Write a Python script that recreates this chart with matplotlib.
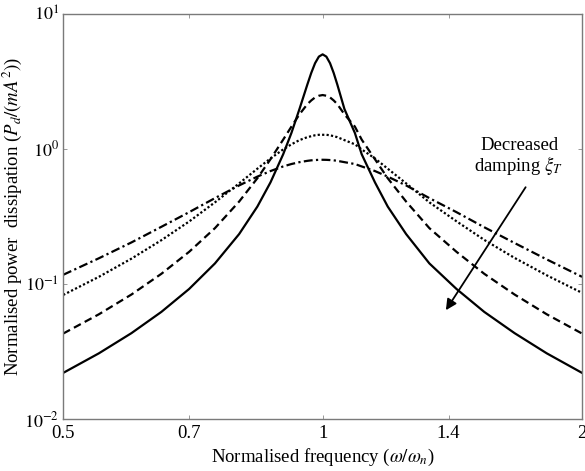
import matplotlib
matplotlib.use("Agg")
import matplotlib.pyplot as plt
from matplotlib.ticker import FixedLocator, FixedFormatter, NullLocator

plt.rcParams["font.family"] = ["Liberation Serif", "DejaVu Serif"]
plt.rcParams["mathtext.fontset"] = "stix"

#frecuencia normalizada (w/wn)
freq = [0.5, 0.55, 0.6, 0.65, 0.7, 0.75, 0.8, 0.84, 0.87, 0.9, 0.92, 0.94, 0.96, 0.97, 0.98, 0.99,
        1.0,
        1.01, 1.02, 1.03, 1.04, 1.06, 1.09, 1.11, 1.15, 1.19, 1.25, 1.33, 1.43, 1.54, 1.67, 1.82, 2.0]

#potencia disipada normalizada, una lista por amortiguamiento
solid = [0.022, 0.0307, 0.0433, 0.0622, 0.0919, 0.142, 0.234, 0.374, 0.565, 0.912, 1.31, 1.97, 2.99, 3.64, 4.30, 4.81,
         5.0,
         4.81, 4.30, 3.64, 2.99, 1.97, 1.31, 0.912, 0.565, 0.374, 0.234, 0.142, 0.0919, 0.0622, 0.0433, 0.0307, 0.022]
dashed = [0.043, 0.0597, 0.0836, 0.119, 0.173, 0.259, 0.407, 0.606, 0.838, 1.17, 1.46, 1.80, 2.14, 2.28, 2.40, 2.47,
          2.50,
          2.47, 2.40, 2.28, 2.14, 1.80, 1.46, 1.17, 0.838, 0.606, 0.407, 0.259, 0.173, 0.119, 0.0836, 0.0597, 0.043]
dotted = [0.083, 0.113, 0.154, 0.211, 0.290, 0.402, 0.555, 0.713, 0.849, 0.990, 1.08, 1.16, 1.22, 1.24, 1.26, 1.27,
          1.27,
          1.27, 1.26, 1.24, 1.22, 1.16, 1.08, 0.990, 0.849, 0.713, 0.555, 0.402, 0.291, 0.212, 0.156, 0.116, 0.086]
dashdot = [0.117, 0.155, 0.203, 0.265, 0.340, 0.432, 0.536, 0.623, 0.685, 0.741, 0.772, 0.797, 0.815, 0.822, 0.826, 0.829,
           0.830,
           0.829, 0.826, 0.822, 0.815, 0.797, 0.772, 0.741, 0.685, 0.623, 0.536, 0.432, 0.340, 0.263, 0.201, 0.152, 0.113]

xticks = [0.5, 0.7, 1, 1.4, 2]
xlabels = ["0.5", "0.7", "1", "1.4", "2"]
yticks = [1e-2, 1e-1, 1e0, 1e1]
ylabels = [r"$10^{-2}$", r"$10^{-1}$", r"$10^{0}$", r"$10^{1}$"]

fig = plt.figure(figsize=(5.85, 4.71), dpi=100)
ax = fig.add_axes([0.108, 0.110, 0.887, 0.861])

ax.plot(freq, solid, color="black", lw=1.6, ls="-")
ax.plot(freq, dashed, color="black", lw=1.6, ls=(0, (3.5, 2)))
ax.plot(freq, dotted, color="black", lw=1.6, ls=(0, (1, 1)))
ax.plot(freq, dashdot, color="black", lw=1.6, ls=(0, (4, 1.5, 1, 1.5)))

ax.set_xscale("log")
ax.set_yscale("log")
ax.set_xlim(0.5, 2)
ax.set_ylim(1e-2, 1e1)

ax.xaxis.set_major_locator(FixedLocator(xticks))
ax.xaxis.set_major_formatter(FixedFormatter(xlabels))
ax.xaxis.set_minor_locator(NullLocator())
ax.yaxis.set_major_locator(FixedLocator(yticks))
ax.yaxis.set_major_formatter(FixedFormatter(ylabels))
ax.yaxis.set_minor_locator(NullLocator())

ax.tick_params(direction="in", top=True, right=True, length=3, width=0.6,
               colors="#888888", labelcolor="black", labelsize=13.5)
ax.tick_params(axis="x", pad=4)
ax.tick_params(axis="y", pad=3, labelsize=13)
for s in ax.spines.values():
    s.set_color("#7a7a7a")
    s.set_linewidth(1.0)

ax.set_xlabel(r"Normalised frequency ($\omega/\omega_n$)", fontsize=13.5)
ax.xaxis.set_label_coords(0.5, -0.068)
ax.set_ylabel(r"Normalised power  dissipation ($P_d/(mA^2)$)", fontsize=13.5)
ax.yaxis.set_label_coords(-0.075, 0.5)

#anotacion
ax.text(1.69, 0.87, "Decreased\ndamping $\\xi_T$", ha="center", va="center",
        fontsize=13.5, linespacing=1.05)
ax.annotate("", xy=(1.39, 0.064), xytext=(1.72, 0.52),
            arrowprops=dict(arrowstyle="-|>", color="black", lw=1.3,
                            mutation_scale=16, shrinkA=0, shrinkB=0))

fig.savefig("out.png", dpi=100)
